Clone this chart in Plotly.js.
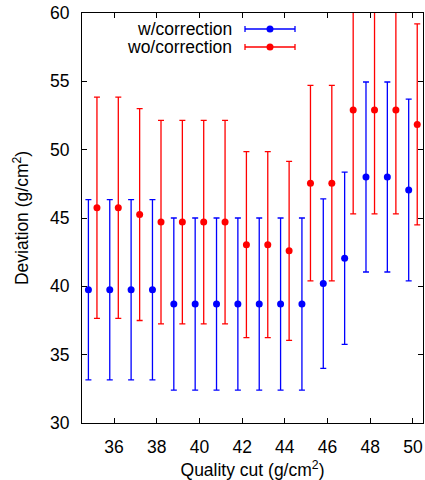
<!DOCTYPE html>
<html>
<head>
<meta charset="utf-8">
<script src="https://cdn.plot.ly/plotly-3.0.1.min.js"></script>
<style>html,body{margin:0;padding:0;background:#fff;}#chart{width:425px;height:480px;}</style>
</head>
<body>
<div id="chart"></div>
<script>
// Quality cuts (g/cm^2)
const cuts = [35,36,37,38,39,40,41,42,43,44,45,46,47,48,49,50];
// w/correction deviation and error
const wCorr = [39.75,39.75,39.75,39.75,38.7,38.7,38.7,38.7,38.7,38.7,38.7,40.2,42.05,48.0,48.0,47.05];
const wErr  = [6.6,6.6,6.6,6.6,6.3,6.3,6.3,6.3,6.3,6.3,6.3,6.2,6.3,6.95,6.95,6.65];
// wo/correction deviation and error
const woCorr = [45.75,45.75,45.25,44.7,44.7,44.7,44.7,43.05,43.05,42.6,47.55,47.55,52.9,52.9,52.9,51.85];
const woErr  = [8.1,8.1,7.75,7.45,7.45,7.45,7.45,6.8,6.8,6.55,7.15,7.15,7.6,7.6,7.6,7.35];
const seriesNames = ['w/correction','wo/correction'];
const xTicks = [36,38,40,42,44,46,48,50];
const yTicks = [30,35,40,45,50,55,60];

const shift = 0.2;
const FONT = 'Liberation Sans, Arial, sans-serif';
const BLUE = '#0000ff', RED = '#ff0000';

function trace(xs, ys, es, color, name){
  return {
    type:'scatter', mode:'markers', name:name,
    x: xs, y: ys,
    marker:{color:color, size:7},
    error_y:{type:'data', array:es, visible:true, color:color, thickness:1.3, width:3},
    showlegend:false, cliponaxis:true
  };
}
const data = [
  trace(cuts.map(c=>c-shift), wCorr, wErr, BLUE, seriesNames[0]),
  trace(cuts.map(c=>c+shift), woCorr, woErr, RED, seriesNames[1])
];

// Custom legend (text left, sample right) in paper coords
const L = 82, R = 423, T = 13, B = 422.7;
const px = v => (v - L)/(R - L);
const py = v => (B - v)/(B - T);
const legendRows = [{y:29, c:BLUE, t:seriesNames[0]}, {y:47, c:RED, t:seriesNames[1]}];
const shapes = [], annotations = [];
legendRows.forEach(r=>{
  const yy = py(r.y);
  shapes.push({type:'line', xref:'paper', yref:'paper', x0:px(245), x1:px(295), y0:yy, y1:yy, line:{color:r.c, width:1.3}});
  [245,295].forEach(xc=>{
    shapes.push({type:'line', xref:'paper', yref:'paper', xsizemode:'pixel', ysizemode:'pixel',
      xanchor:px(xc), yanchor:yy, x0:0, x1:0, y0:-3, y1:3, line:{color:r.c, width:1.3}});
  });
  shapes.push({type:'circle', xref:'paper', yref:'paper', xsizemode:'pixel', ysizemode:'pixel',
    xanchor:px(270), yanchor:yy, x0:-3.5, x1:3.5, y0:-3.5, y1:3.5, fillcolor:r.c, line:{color:r.c, width:0}});
  annotations.push({xref:'paper', yref:'paper', x:px(234), y:yy, xanchor:'right', yanchor:'middle',
    text:r.t, showarrow:false, font:{family:FONT, size:17.5, color:'#000'}});
});

const axisCommon = {
  showgrid:false, zeroline:false, showline:true, linecolor:'#000', linewidth:1,
  mirror:'ticks', ticks:'inside', ticklen:5, tickcolor:'#000', tickwidth:1,
  tickfont:{family:FONT, size:17.5, color:'#000'}
};
const layout = {
  width:425, height:480,
  margin:{l:L, r:425-R, t:T, b:480-B},
  paper_bgcolor:'#fff', plot_bgcolor:'#fff',
  font:{family:FONT, size:17.5, color:'#000'},
  xaxis: Object.assign({}, axisCommon, {
    range:[34.5,50.47], tickvals:xTicks, ticktext:xTicks.map(String),
    ticklabelstandoff:8,
    title:{text:'Quality cut (g/cm<sup>2</sup>)', font:{family:FONT, size:17.5, color:'#000'}, standoff:12}
  }),
  yaxis: Object.assign({}, axisCommon, {
    range:[30,60], tickvals:yTicks, ticktext:yTicks.map(String),
    ticklabelstandoff:8,
    title:{text:'Deviation (g/cm<sup>2</sup>)', font:{family:FONT, size:17.5, color:'#000'}, standoff:16}
  }),
  shapes:shapes, annotations:annotations, showlegend:false
};
Plotly.newPlot('chart', data, layout, {staticPlot:true, displayModeBar:false});
</script>
</body>
</html>
